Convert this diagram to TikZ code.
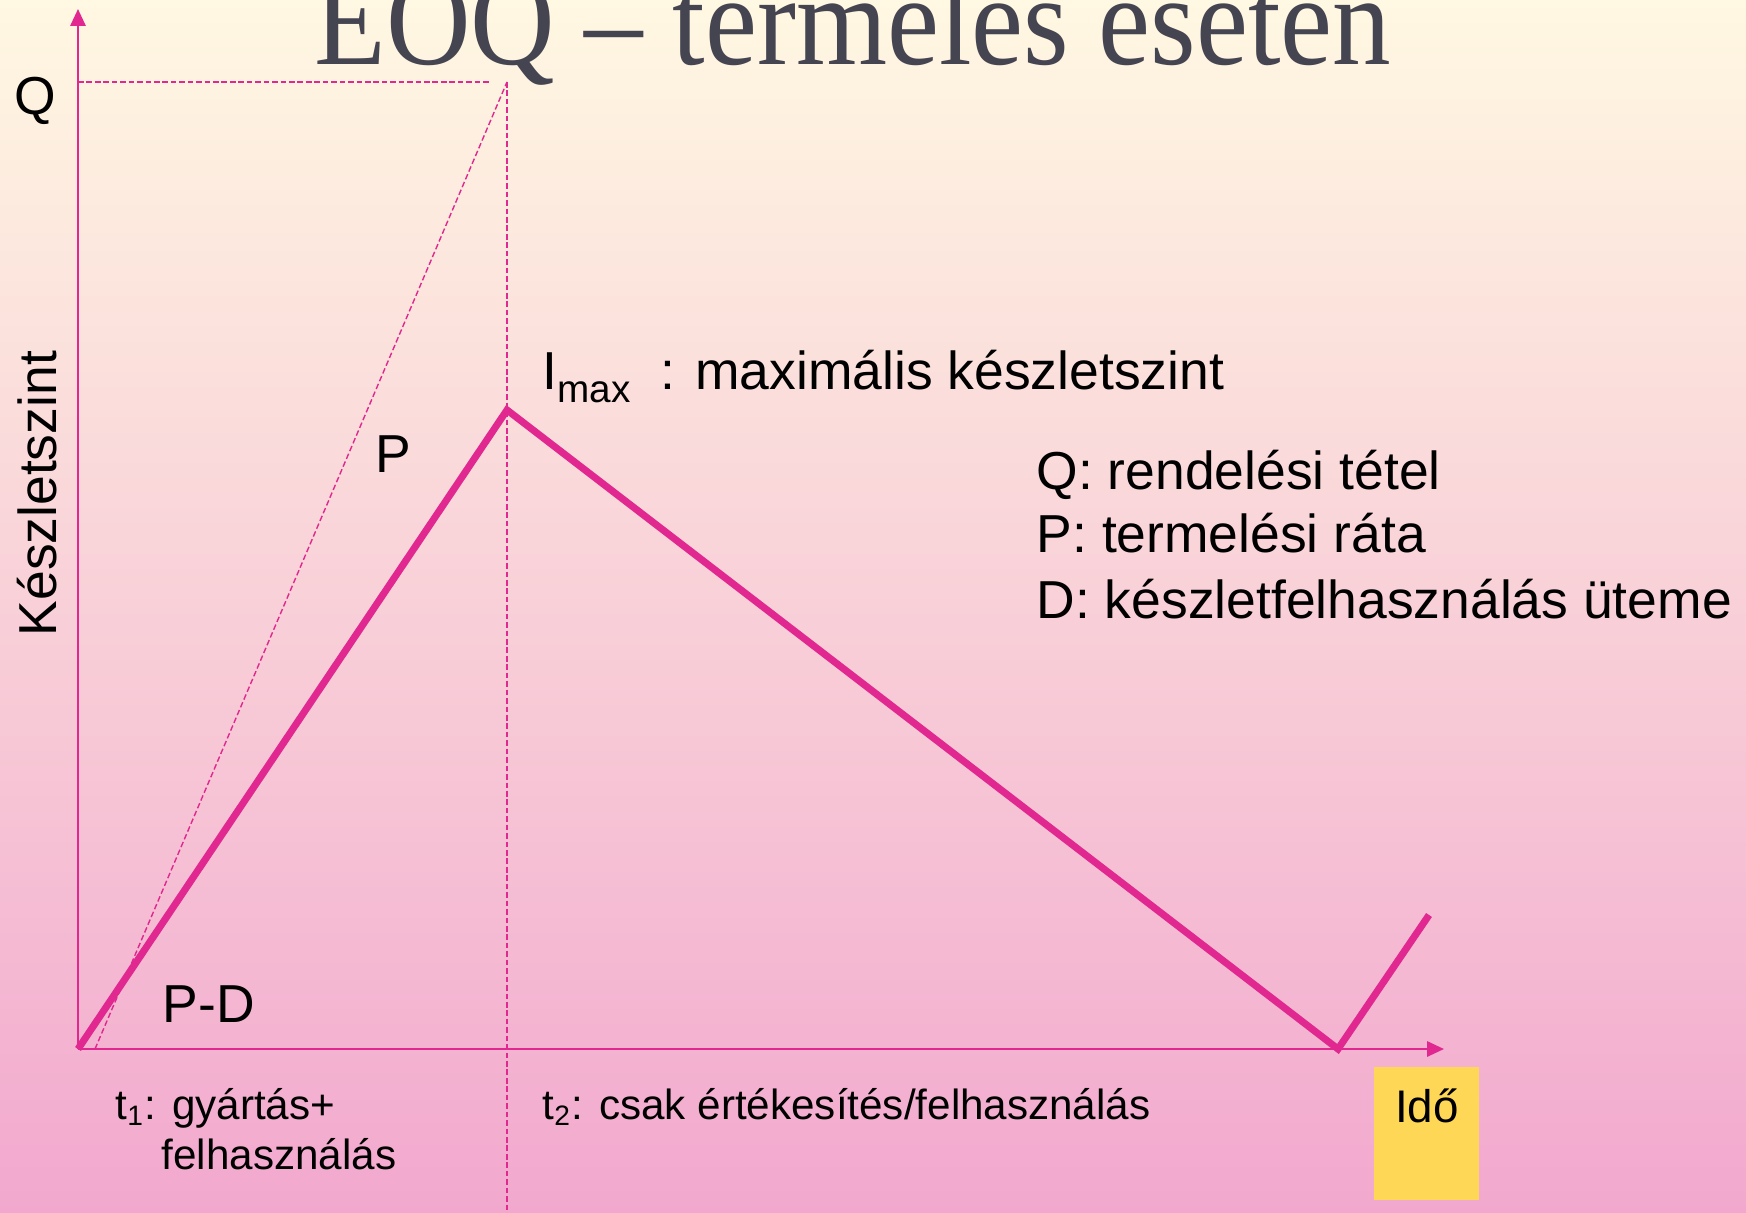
\documentclass[tikz,border=0pt]{standalone}
\usepackage{fontspec}
\setmainfont{Liberation Sans}
\newfontfamily\titlefont{Liberation Serif}
\usetikzlibrary{arrows.meta}

\definecolor{magline}{RGB}{224,40,144}
\definecolor{bgtop}{RGB}{255,248,226}
\definecolor{bgbot}{RGB}{242,168,206}
\definecolor{titlegray}{RGB}{69,69,82}
\definecolor{idoyellow}{RGB}{255,215,87}

\tikzset{
  axis/.style={magline, line width=0.7pt, -{Triangle[length=4.8pt,width=4.3pt]}},
  helper/.style={magline, line width=0.4pt, dash pattern=on 1.6pt off 0.8pt},
  stock/.style={magline, line width=2pt, line join=miter},
  lbl/.style={font=\fontsize{15.2}{18}\selectfont, inner sep=0pt, anchor=base west},
  small/.style={font=\fontsize{12}{15}\selectfont, inner sep=0pt, anchor=base west},
  idobox/.style={fill=idoyellow, minimum width=1.05cm, minimum height=1.33cm, inner sep=0pt},
}

\begin{document}
\begin{tikzpicture}[x=0.01cm, y=-0.01cm]

\useasboundingbox (0,0) rectangle (1746,1213);
\clip (0,0) rectangle (1746,1213);

% Hatter
\shade[top color=bgtop, bottom color=bgbot] (0,0) rectangle (1746,1213);

% Cim
\node[font=\titlefont\fontsize{33.3}{36}\selectfont, text=titlegray, inner sep=0pt,
      anchor=base, yscale=1.1] (title) at (853,65) {EOQ – termeles eseten};

% Pontok
\coordinate (O) at (78,1049);
\coordinate (ytip) at (78,9);
\coordinate (xtip) at (1444,1049);
\coordinate (Qleft) at (78,82);
\coordinate (Qend) at (490,82);
\coordinate (Qtop) at (507,82);
\coordinate (Pstart) at (95,1049);
\coordinate (bottom) at (507,1213);
\coordinate (peak) at (507,410);
\coordinate (zero) at (1338,1049);
\coordinate (restart) at (1429,915);

% Segedvonalak
\draw[helper] (Qleft) -- (Qend);
\draw[helper] (Pstart) -- (Qtop);
\draw[helper] (Qtop) -- (bottom);

% Tengelyek
\draw[axis] (O) -- (ytip);
\draw[axis] (O) -- (xtip);

% Keszletszint
\draw[stock] (O) -- (peak) -- (zero) -- (restart);

% Feliratok
\node[lbl] (qlabel) at (14,115) {Q};
\node[lbl, rotate=90] (ylabel) at (56,637) {Készletszint};
\node[lbl] (plabel) at (375,473) {P};
\node[lbl] (pdlabel) at (162,1022) {P-D};
\node[lbl] (imax) at (542,390)
  {I{\fontsize{11}{13}\selectfont\raisebox{-0.6ex}{max}}\hspace{0.3cm}: maximális készletszint};

% Jelmagyarazat
\node[lbl] (legq) at (1036,490) {Q: rendelési tétel};
\node[lbl] (legp) at (1036,553) {P: termelési ráta};
\node[lbl] (legd) at (1036,618) {D: készletfelhasználás üteme};

% Idoszakok
\node[small] (t1) at (115,1119) {t\textsubscript{1}: gyártás+};
\node[small] (t1b) at (161,1169) {felhasználás};
\node[small] (t2) at (542,1119) {t\textsubscript{2}: csak értékesítés/felhasználás};

% Ido
\node[idobox] (ido) at (1426.5,1133.5) {};
\node[small, anchor=base, font=\fontsize{13}{15}\selectfont] (idotext) at (1427,1122) {Idő};

\end{tikzpicture}
\end{document}
